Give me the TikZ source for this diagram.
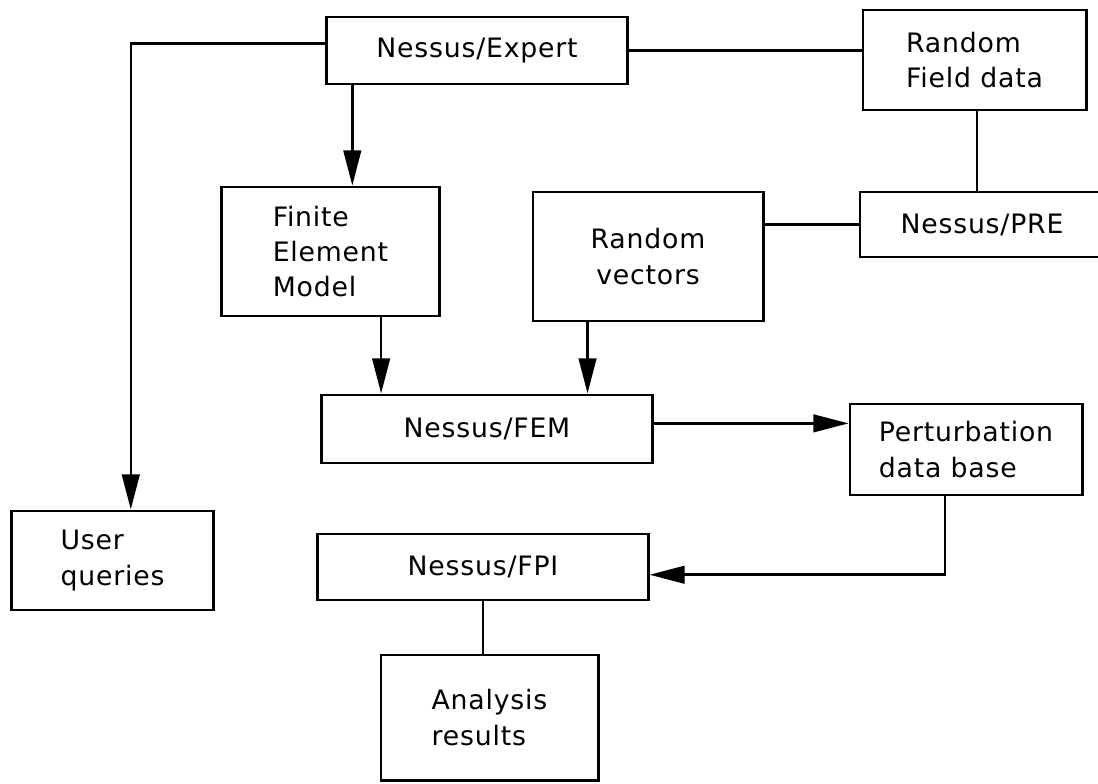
\documentclass[tikz,border=0pt]{standalone}
\usepackage{fontspec}
\setmainfont[LetterSpace=3]{DejaVu Sans}
\usetikzlibrary{arrows.meta, calc}

\tikzset{
  box/.style={draw, line width=2.1pt, inner sep=0pt, font=\fontsize{19}{25}\selectfont},
  arr/.style={line width=1.8pt, -{Triangle[length=25pt, width=12.5pt]}},
  link/.style={line width=1.8pt}
}

\begin{document}
\begin{tikzpicture}[x=0.025cm, y=-0.025cm]
\useasboundingbox (0,0) rectangle (1098,783);

%boxes
\node[box, minimum width=7.5cm, minimum height=1.675cm] (expert) at (477,50.5) {Nessus/Expert};
\node[box, align=left, minimum width=5.575cm, minimum height=2.5cm] (field) at (974.5,60) {Random\\Field data};
\node[box, align=left, minimum width=5.425cm, minimum height=3.225cm] (femodel) at (330.5,251.5) {Finite\\Element\\Model};
\node[box, align=center, minimum width=5.75cm, minimum height=3.225cm] (vectors) at (648,256.5) {Random\\vectors};
\node[box, minimum width=6.1cm, minimum height=1.625cm] (pre) at (982,224.5) {Nessus/PRE};
\node[box, minimum width=8.25cm, minimum height=1.7cm] (fem) at (487,429) {Nessus/FEM};
\node[box, align=left, minimum width=5.8cm, minimum height=2.275cm] (pert) at (966,449.5) {Perturbation\\data base};
\node[box, align=left, minimum width=5.025cm, minimum height=2.475cm] (user) at (112.5,560.5) {User\\queries};
\node[box, minimum width=8.25cm, minimum height=1.65cm] (fpi) at (483,567) {Nessus/FPI};
\node[box, align=left, minimum width=5.425cm, minimum height=3.125cm] (results) at (489.5,717.5) {Analysis\\results};

%connectors
\draw[arr] ([yshift=5pt]expert.west) -| ([xshift=13pt]user.north);
\draw[arr] ([xshift=15.5pt]femodel.north |- expert.south) -- ([xshift=15.5pt]femodel.north);
\draw[link] (expert.east) -- (expert.east -| field.west);
\draw[link, line width=1.4pt] ([xshift=2pt]field.south) -- ([xshift=2pt]field.south |- pre.north);
\draw[link] (pre.west) -- (pre.west -| vectors.east);
\draw[arr] ([xshift=36pt]femodel.south) -- ([xshift=36pt]femodel.south |- fem.north);
\draw[arr] ([xshift=-43pt]vectors.south) -- ([xshift=-43pt]vectors.south |- fem.north);
\draw[arr] ([yshift=4pt]fem.east) -- ([yshift=4pt]fem.east -| pert.west);
\draw[arr] ([xshift=-15pt]pert.south) |- ([yshift=-5.5pt]fpi.east);
\draw[line width=1pt] (fpi.south) -- (fpi.south |- results.north);

\end{tikzpicture}
\end{document}
